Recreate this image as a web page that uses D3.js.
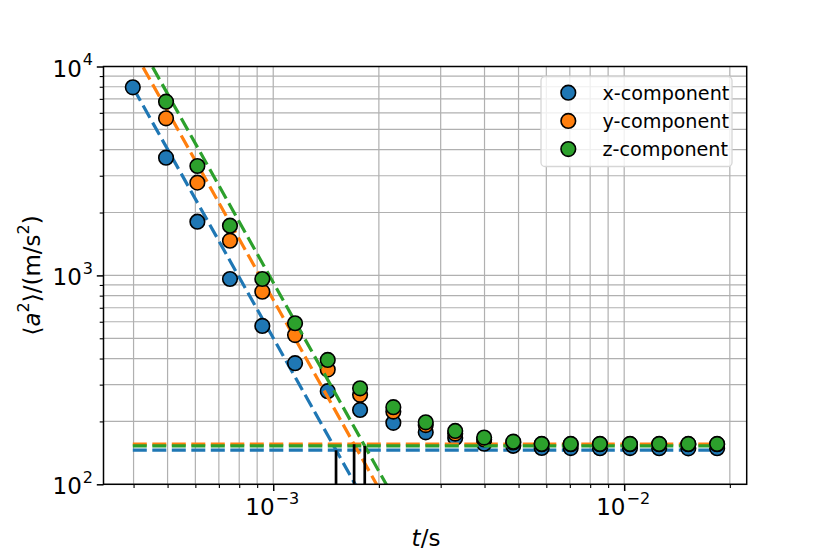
<!DOCTYPE html>
<html><head><meta charset="utf-8">
<script src="https://cdn.jsdelivr.net/npm/d3@7"></script>
<style>body{margin:0;background:#fff} svg{display:block;font-family:"DejaVu Sans",sans-serif}</style>
</head><body>
<svg id="chart" width="830" height="554"></svg>
<script>
// ---- data ----
const times = [3.98e-4, 4.95e-4, 6.08e-4, 7.53e-4, 9.31e-4, 1.154e-3, 1.43e-3, 1.768e-3, 2.199e-3, 2.72e-3,
               3.30e-3, 3.99e-3, 4.83e-3, 5.82e-3, 7.04e-3, 8.53e-3, 1.039e-2, 1.258e-2, 1.523e-2, 1.84e-2];
const xComp = [7950, 3660, 1807, 961, 573, 380, 279, 227, 197, 177.4, 166.6, 156.5, 152.9, 149.2, 149, 148.8, 149, 148.8, 148.6, 148.8];
const yComp = [12000, 5650, 2780, 1466, 836, 518, 354, 268, 223, 192, 175, 164, 158.5, 155.5, 155.5, 155.5, 155.5, 155.5, 155.5, 155.5];
const zComp = [14200, 6785, 3339, 1729, 961, 590, 394, 288, 234, 198, 180, 167.4, 159.9, 156, 156, 156, 156, 156, 156, 156];
const seriesNames = ["x-component", "y-component", "z-component"];
const seriesColors = ["#1f77b4", "#ff7f0e", "#2ca02c"];
// plateau levels (horizontal dashed) and their t-extent
const plateau = [145.7, 155.7, 152.7];
const plateauRange = [3.98e-4, 1.84e-2];
// power-law fit lines: two end points each [t, value]
const fitX = [[4e-4, 7840], [2.4e-3, 36.3]];
const fitY = [[4e-4, 11950], [2.4e-3, 55.3]];
const fitZ = [[4e-4, 14450], [2.4e-3, 66.9]];
// crossing times marked by vertical black lines
const crossTimes = [1.51e-3, 1.70e-3, 1.823e-3];
// axis ticks
const xMajorTicks = [1e-3, 1e-2];
const xMinorTicks = [4e-4, 5e-4, 6e-4, 7e-4, 8e-4, 9e-4, 2e-3, 3e-3, 4e-3, 5e-3, 6e-3, 7e-3, 8e-3, 9e-3, 2e-2];
const yMajorTicks = [100, 1000, 10000];
const yMinorTicks = [200, 300, 400, 500, 600, 700, 800, 900, 2000, 3000, 4000, 5000, 6000, 7000, 8000, 9000];

const series = [xComp, yComp, zComp];
const fits = [fitX, fitY, fitZ];

// ---- layout ----
const L = 103.5, R = 746.7, T = 66.5, B = 484.3;
const FS = 23, SUP = 16;
const svg = d3.select("#chart");
const x = d3.scaleLog().domain([3.284e-4, 2.234e-2]).range([L, R]);
const y = d3.scaleLog().domain([100, 10000]).range([B, T]);

svg.append("defs").append("clipPath").attr("id", "clip")
  .append("rect").attr("x", L).attr("y", T).attr("width", R - L).attr("height", B - T);

// grid
const grid = svg.append("g").attr("stroke", "#b0b0b0").attr("stroke-width", 1.2);
[...xMajorTicks, ...xMinorTicks].forEach(v => grid.append("line")
  .attr("x1", x(v)).attr("x2", x(v)).attr("y1", T).attr("y2", B));
[...yMajorTicks, ...yMinorTicks].forEach(v => grid.append("line")
  .attr("y1", y(v)).attr("y2", y(v)).attr("x1", L).attr("x2", R));

// axes (ticks)
function styleAxis(g, w) {
  g.select(".domain").remove();
  g.selectAll(".tick line").attr("stroke", "#000").attr("stroke-width", w);
}
const supLabel = (sel, v) => {
  const e = Math.round(Math.log10(v));
  sel.text(null);
  sel.append("tspan").text("10");
  sel.append("tspan").attr("dx", "1").attr("dy", "-11.5").attr("font-size", SUP + "px").text(String(e).replace("-", "\u2212"));
};

const xAxis = svg.append("g").attr("transform", `translate(0,${B})`)
  .call(d3.axisBottom(x).tickValues(xMajorTicks).tickSize(6.7).tickSizeOuter(0).tickFormat(() => ""));
styleAxis(xAxis, 1.5);
svg.append("g").attr("transform", `translate(0,${B})`)
  .call(d3.axisBottom(x).tickValues(xMinorTicks).tickSize(3.8).tickSizeOuter(0).tickFormat(() => ""))
  .call(g => styleAxis(g, 1.1));
const yAxis = svg.append("g").attr("transform", `translate(${L},0)`)
  .call(d3.axisLeft(y).tickValues(yMajorTicks).tickSize(6.7).tickSizeOuter(0).tickFormat(() => ""));
styleAxis(yAxis, 1.5);
svg.append("g").attr("transform", `translate(${L},0)`)
  .call(d3.axisLeft(y).tickValues(yMinorTicks).tickSize(3.8).tickSizeOuter(0).tickFormat(() => ""))
  .call(g => styleAxis(g, 1.1));

// tick labels
xMajorTicks.forEach(v => {
  svg.append("text").attr("x", x(v) - 1).attr("y", B + 31).attr("text-anchor", "middle")
    .attr("font-size", FS + "px").attr("fill", "#000").call(supLabel, v);
});
yMajorTicks.forEach(v => {
  svg.append("text").attr("x", L - 10.5).attr("y", y(v) + 10).attr("text-anchor", "end")
    .attr("font-size", FS + "px").attr("fill", "#000").call(supLabel, v);
});

// data layer
const plot = svg.append("g").attr("clip-path", "url(#clip)");
const line = d3.line().x(d => x(d[0])).y(d => y(d[1]));
series.forEach((vals, i) => {
  plot.append("path").datum(fits[i]).attr("d", line).attr("fill", "none")
    .attr("stroke", seriesColors[i]).attr("stroke-width", 3.2).attr("stroke-dasharray", "14,5.5");
  plot.append("path").datum(plateauRange.map(t => [t, plateau[i]])).attr("d", line).attr("fill", "none")
    .attr("stroke", seriesColors[i]).attr("stroke-width", 3.2).attr("stroke-dasharray", "14,5.5");
  plot.selectAll(null).data(times.map((t, k) => [t, vals[k]])).enter().append("circle")
    .attr("cx", d => x(d[0])).attr("cy", d => y(d[1])).attr("r", 7.3)
    .attr("fill", seriesColors[i]).attr("stroke", "#000").attr("stroke-width", 1.6);
});
crossTimes.forEach((t, i) => {
  plot.append("line").attr("x1", x(t)).attr("x2", x(t)).attr("y1", y(plateau[i])).attr("y2", B + 2)
    .attr("stroke", "#000").attr("stroke-width", 2.7);
});

// spines
svg.append("rect").attr("x", L).attr("y", T).attr("width", R - L).attr("height", B - T)
  .attr("fill", "none").attr("stroke", "#000").attr("stroke-width", 1.5);

// legend
const lg = svg.append("g");
lg.append("rect").attr("x", 541).attr("y", 76.5).attr("width", 191).attr("height", 90).attr("rx", 4)
  .attr("fill", "#fff").attr("fill-opacity", 0.8).attr("stroke", "#d6d6d6").attr("stroke-width", 1.3);
seriesNames.forEach((n, i) => {
  const cy = 92.7 + i * 28.2;
  lg.append("circle").attr("cx", 568.3).attr("cy", cy).attr("r", 7.3)
    .attr("fill", seriesColors[i]).attr("stroke", "#000").attr("stroke-width", 1.6);
  lg.append("text").attr("x", 602.5).attr("y", cy + 6.8).attr("font-size", "19.2px").attr("fill", "#000").text(n);
});

// axis titles
const xl = svg.append("text").attr("x", 426).attr("y", 546).attr("text-anchor", "middle")
  .attr("font-size", FS + "px").attr("fill", "#000");
xl.append("tspan").attr("font-style", "italic").text("t");
xl.append("tspan").text("/s");

const yl = svg.append("text").attr("transform", `translate(40,${(T + B) / 2}) rotate(-90)`)
  .attr("text-anchor", "middle").attr("font-size", FS + "px").attr("fill", "#000");
yl.append("tspan").text("\u27E8");
yl.append("tspan").attr("font-style", "italic").text("a");
yl.append("tspan").attr("dy", "-11").attr("font-size", SUP + "px").text("2");
yl.append("tspan").attr("dy", "11").text("\u27E9/(m/s");
yl.append("tspan").attr("dy", "-11").attr("font-size", SUP + "px").text("2");
yl.append("tspan").attr("dy", "11").text(")");
</script>
</body></html>
